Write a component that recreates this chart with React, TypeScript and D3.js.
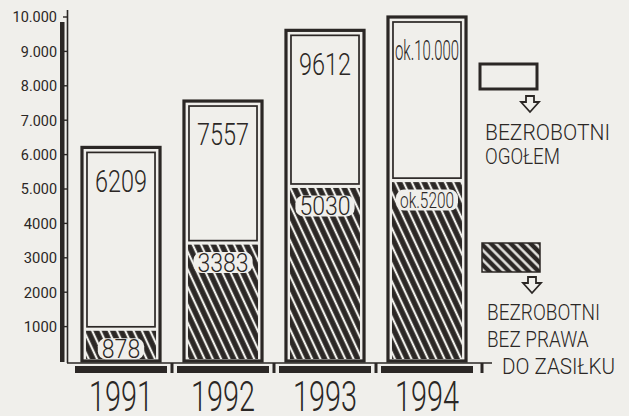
import React, { useEffect, useRef } from 'react';
import * as d3 from 'd3';

const years = ['1991', '1992', '1993', '1994'];
const totalUnemployed = [6209, 7557, 9612, 10000];
const withoutBenefit = [878, 3383, 5030, 5200];
const totalLabels = ['6209', '7557', '9612', 'ok.10.000'];
const benefitLabels = ['878', '3383', '5030', 'ok.5200'];
const tickValues = [1000, 2000, 3000, 4000, 5000, 6000, 7000, 8000, 9000, 10000];
const tickLabels = ['1000', '2000', '3000', '4000', '5.000', '6.000', '7.000', '8.000', '9.000', '10.000'];
const legendTotal = ['BEZROBOTNI', 'OGOŁEM'];
const legendNoBenefit = ['BEZROBOTNI', 'BEZ PRAWA', 'DO ZASIŁKU'];

const W = 629;
const H = 416;
const ink = '#2b2725';
const paper = '#f0efeb';
const font = "Roboto,'Open Sans','DejaVu Sans',sans-serif";

// rough width of hand lettered numbers
const numWidth = (s: string, digit: number, dot: number) =>
  s.split('').reduce((w, c) => w + (c === '.' ? dot : digit), 0);

export default function App() {
  const ref = useRef<SVGSVGElement | null>(null);

  useEffect(() => {
    document.body.style.margin = '0';
    const svg = d3.select(ref.current);
    svg.selectAll('*').remove();

    const y = d3.scaleLinear().domain([0, 10000]).range([361, 17]);
    const x = d3.scaleBand().domain(years).range([70, 478]).paddingInner(0.235).paddingOuter(0.1175);
    const bw = x.bandwidth();

    svg.append('rect').attr('width', W).attr('height', H).attr('fill', paper);

    const defs = svg.append('defs');
    const hatch = (id: string, angle: number, size: number, stripe: number) => {
      const p = defs.append('pattern')
        .attr('id', id)
        .attr('patternUnits', 'userSpaceOnUse')
        .attr('width', size)
        .attr('height', size)
        .attr('patternTransform', `rotate(${angle})`);
      p.append('rect').attr('width', size).attr('height', size).attr('fill', ink);
      p.append('line')
        .attr('x1', size / 2).attr('x2', size / 2)
        .attr('y1', -1).attr('y2', size + 1)
        .attr('stroke', paper).attr('stroke-width', stripe);
    };
    hatch('hatch', -25, 7.5, 2.2);
    hatch('hatchLegend', -45, 7, 2.4);

    // y axis: thick bar + thin line
    svg.append('rect').attr('x', 60).attr('y', 22).attr('width', 4.5).attr('height', y(0) + 1 - 22).attr('fill', ink);
    svg.append('line').attr('x1', 67.5).attr('x2', 67.5).attr('y1', 10).attr('y2', y(0) + 2)
      .attr('stroke', ink).attr('stroke-width', 1.6);
    svg.selectAll('.tk').data(tickValues).enter().append('line')
      .attr('x1', 63).attr('x2', 68)
      .attr('y1', d => y(d)).attr('y2', d => y(d))
      .attr('stroke', ink).attr('stroke-width', 1.4);

    const axis = d3.axisLeft(y)
      .tickValues(tickValues)
      .tickFormat((d, i) => tickLabels[i])
      .tickSize(0)
      .tickPadding(0);
    const gA = svg.append('g').attr('transform', 'translate(57,0)').call(axis as any);
    gA.select('.domain').remove();
    gA.selectAll('text')
      .attr('font-family', font)
      .attr('font-weight', 400)
      .attr('font-size', 15)
      .attr('fill', ink)
      .attr('textLength', (d, i) => numWidth(tickLabels[i], 8.3, 3))
      .attr('lengthAdjust', 'spacingAndGlyphs');

    // bars
    const g = svg.append('g');
    years.forEach((yr, i) => {
      const bx = x(yr) as number;
      const cx = bx + bw / 2;
      const top = y(totalUnemployed[i]);
      const sub = y(withoutBenefit[i]);

      g.append('rect')
        .attr('x', bx).attr('y', top)
        .attr('width', bw).attr('height', y(0) - top)
        .attr('fill', paper).attr('stroke', ink).attr('stroke-width', 3.2);

      g.append('rect')
        .attr('x', bx + 4).attr('y', sub)
        .attr('width', bw - 8).attr('height', y(0) - 2 - sub)
        .attr('fill', 'url(#hatch)');

      g.append('rect')
        .attr('x', bx + 5).attr('y', top + 5)
        .attr('width', bw - 10).attr('height', sub - 4 - (top + 5))
        .attr('fill', 'none').attr('stroke', ink).attr('stroke-width', 1.7);

      const long = totalLabels[i].length > 4;
      g.append('text')
        .attr('x', cx).attr('y', top + 33)
        .attr('dy', '0.36em')
        .attr('text-anchor', 'middle')
        .attr('font-family', font)
        .attr('font-weight', 300)
        .attr('font-size', long ? 27 : 31)
        .attr('fill', ink)
        .attr('textLength', long ? 64 : 52)
        .attr('lengthAdjust', 'spacingAndGlyphs')
        .text(totalLabels[i]);

      const bl = benefitLabels[i];
      const blw = bl.length > 4 ? 54 : numWidth(bl, 12.8, 3);
      const ly = sub + 18;
      g.append('rect')
        .attr('x', cx - blw / 2 - 4).attr('y', ly - 10.5)
        .attr('width', blw + 8).attr('height', 21)
        .attr('rx', 8)
        .attr('fill', paper);
      g.append('text')
        .attr('x', cx).attr('y', ly)
        .attr('dy', '0.36em')
        .attr('text-anchor', 'middle')
        .attr('font-family', font)
        .attr('font-weight', 300)
        .attr('font-size', bl.length > 4 ? 22 : 25)
        .attr('fill', ink)
        .attr('textLength', blw)
        .attr('lengthAdjust', 'spacingAndGlyphs')
        .text(bl);
    });

    // base
    const step = x.step();
    const last = (x(years[years.length - 1]) as number) + bw / 2;
    svg.append('line').attr('x1', 67).attr('x2', last + 65).attr('y1', 363).attr('y2', 363)
      .attr('stroke', ink).attr('stroke-width', 1.5);
    years.forEach((yr, i) => {
      const cx = (x(yr) as number) + bw / 2;
      svg.append('rect').attr('x', cx - 46).attr('y', 366).attr('width', 92).attr('height', 7).attr('fill', ink);
      const jx = i < years.length - 1 ? cx + step / 2 : cx + 55;
      svg.append('rect').attr('x', jx - 1.5).attr('y', 363).attr('width', 3).attr('height', 10).attr('fill', ink);
      svg.append('text')
        .attr('x', cx).attr('y', 411)
        .attr('text-anchor', 'middle')
        .attr('font-family', font)
        .attr('font-weight', 300)
        .attr('font-size', 43)
        .attr('fill', ink)
        .attr('textLength', 64)
        .attr('lengthAdjust', 'spacingAndGlyphs')
        .text(yr);
    });

    // legend
    const arrow = (cx: number, t: number) =>
      `M${cx - 4},${t} L${cx + 4},${t} L${cx + 4},${t + 6} L${cx + 9},${t + 6} L${cx},${t + 16} L${cx - 9},${t + 6} L${cx - 4},${t + 6} Z`;

    svg.append('rect').attr('x', 480).attr('y', 64).attr('width', 57).attr('height', 25)
      .attr('fill', paper).attr('stroke', ink).attr('stroke-width', 3);
    svg.append('path').attr('d', arrow(530, 96)).attr('fill', paper).attr('stroke', ink).attr('stroke-width', 1.8);
    legendTotal.forEach((t, i) => {
      svg.append('text')
        .attr('x', 485).attr('y', 140 + i * 24)
        .attr('font-family', font).attr('font-weight', 300).attr('font-size', 22).attr('fill', ink)
        .attr('textLength', t.length * 12.5).attr('lengthAdjust', 'spacingAndGlyphs')
        .text(t);
    });

    svg.append('rect').attr('x', 482).attr('y', 243).attr('width', 58).attr('height', 29)
      .attr('fill', 'url(#hatchLegend)').attr('stroke', ink).attr('stroke-width', 1.5);
    svg.append('path').attr('d', arrow(532, 277)).attr('fill', paper).attr('stroke', ink).attr('stroke-width', 1.8);
    legendNoBenefit.forEach((t, i) => {
      svg.append('text')
        .attr('x', i === 2 ? 502 : 487).attr('y', 320 + i * 27)
        .attr('font-family', font).attr('font-weight', 300).attr('font-size', 22).attr('fill', ink)
        .attr('textLength', t.length * 11.3).attr('lengthAdjust', 'spacingAndGlyphs')
        .text(t);
    });
  }, []);

  return <svg ref={ref} width={W} height={H} style={{ display: 'block' }} />;
}
